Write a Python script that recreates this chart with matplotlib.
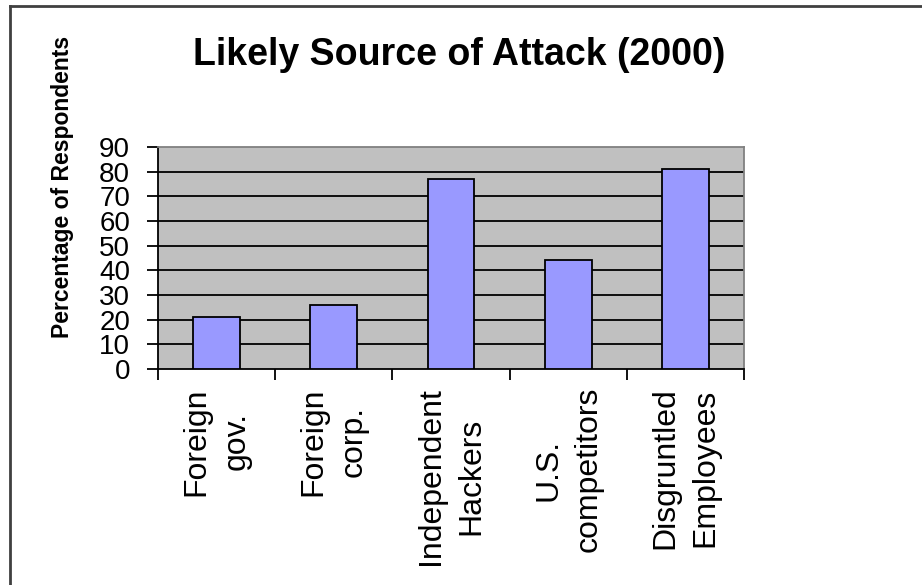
import matplotlib
matplotlib.use("Agg")
import matplotlib.pyplot as plt
from matplotlib.lines import Line2D
import numpy as np

categories = ["Foreign\ngov.", "Foreign\ncorp.", "Independent\nHackers",
              "U.S.\ncompetitors", "Disgruntled\nEmployees"]
values = [21, 26, 77, 44, 81]
y_ticks = [0, 10, 20, 30, 40, 50, 60, 70, 80, 90]
title = "Likely Source of Attack (2000)"
y_label = "Percentage of Respondents"

plt.rcParams['font.family'] = ['Liberation Sans', 'DejaVu Sans']

W, H = 922, 585
fig = plt.figure(figsize=(W / 100, H / 100), dpi=100)
fig.patch.set_facecolor('white')

left, right, top, bottom = 158, 744, 147, 369
ax = fig.add_axes([left / W, 1 - bottom / H, (right - left) / W, (bottom - top) / H])
ax.set_facecolor('#C0C0C0')

x = np.arange(len(categories))
ax.bar(x, values, width=0.4, color='#9999FF', edgecolor='black', linewidth=1.3, zorder=3)

ax.set_xlim(-0.5, len(categories) - 0.5)
ax.set_ylim(0, 90)
ax.set_yticks(y_ticks)
ax.set_yticklabels([str(t) for t in y_ticks], fontsize=20)
for t in y_ticks[1:-1]:
    ax.axhline(t, color='black', linewidth=1.3, zorder=2)

ax.set_xticks(np.arange(-0.5, len(categories), 1.0))
ax.set_xticklabels([''] * (len(categories) + 1))
ax.set_xticks(x, minor=True)
ax.set_xticklabels(categories, minor=True, rotation=90, fontsize=23,
                   ha='center', va='top', multialignment='center', linespacing=1.45)
ax.tick_params(axis='x', which='major', length=8, width=1.3, color='black', direction='out')
ax.tick_params(axis='x', which='minor', length=0, pad=13)
ax.tick_params(axis='y', which='major', length=8, width=1.3, color='black', direction='out', pad=12)

for s in ['left', 'bottom']:
    ax.spines[s].set_color('black')
    ax.spines[s].set_linewidth(1.3)
for s in ['top', 'right']:
    ax.spines[s].set_color('#808080')
    ax.spines[s].set_linewidth(1.3)

fig.text(459 / W, 1 - 65 / H, title, ha='center', va='baseline',
         fontsize=27, fontweight='bold')
fig.text(62 / W, 1 - 187 / H, y_label, ha='center', va='center', rotation=90,
         fontsize=16.5, fontweight='bold')

# outer frame
bx, by = 10 / W, 1 - 6 / H
fig.add_artist(Line2D([bx, bx], [0, by], transform=fig.transFigure, color='#404040', linewidth=2))
fig.add_artist(Line2D([bx, 1], [by, by], transform=fig.transFigure, color='#404040', linewidth=2))

fig.savefig("out.png", dpi=100)
